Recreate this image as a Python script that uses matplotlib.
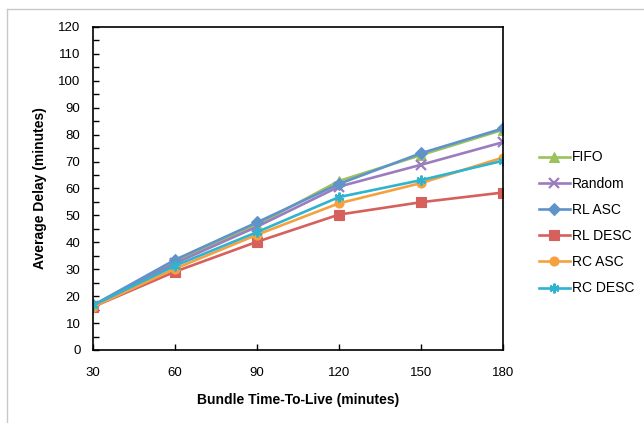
import matplotlib
matplotlib.use('Agg')
import matplotlib.pyplot as plt
from matplotlib.lines import Line2D
from matplotlib.ticker import MultipleLocator

plt.rcParams['font.family'] = ['Liberation Sans', 'DejaVu Sans']

TTL = [30, 60, 90, 120, 150, 180]

FIFO    = [16.5, 33.0, 46.5, 62.8, 72.4, 81.8]
RANDOM  = [16.5, 32.2, 45.8, 60.7, 68.8, 77.2]
RL_ASC  = [16.6, 33.5, 47.4, 61.7, 73.1, 82.3]
RL_DESC = [16.0, 29.1, 40.2, 50.3, 54.9, 58.5]
RC_ASC  = [16.0, 30.2, 42.8, 54.5, 62.0, 71.5]
RC_DESC = [16.6, 31.3, 43.8, 56.8, 63.1, 70.3]

series = [
    ('FIFO',    FIFO,    '#9bc25c', '^'),
    ('Random',  RANDOM,  '#9b7cbf', 'x'),
    ('RL ASC',  RL_ASC,  '#5f93c9', 'D'),
    ('RL DESC', RL_DESC, '#d6605c', 's'),
    ('RC ASC',  RC_ASC,  '#f5a13f', 'o'),
    ('RC DESC', RC_DESC, '#2fb3cf', (6, 2, 0)),
]

fig = plt.figure(figsize=(6.44, 4.23), dpi=100)
ax = fig.add_axes([0.1444, 0.1726, 0.6366, 0.7636])

for name, vals, col, mk in series:
    ms = 6.5 if mk in ('^', 's', 'o') else 7
    if mk == 'D':
        ms = 6
    ax.plot(TTL, vals, color=col, marker=mk, markersize=ms, linewidth=1.9,
            markeredgewidth=1.6 if mk in ('x', (6, 2, 0)) else 0.8,
            markeredgecolor=col, label=name)

ax.set_xlim(30, 180)
ax.set_ylim(0, 120)
ax.set_xticks(TTL)
ax.yaxis.set_major_locator(MultipleLocator(10))
ax.yaxis.set_minor_locator(MultipleLocator(5))
ax.tick_params(axis='both', which='both', direction='in', length=4, width=1,
               labelsize=9.5, colors='black')
ax.tick_params(axis='x', pad=12)
ax.tick_params(axis='y', pad=9)
for s in ax.spines.values():
    s.set_linewidth(1.2)

ax.set_xlabel('Bundle Time-To-Live (minutes)', fontsize=10, fontweight='bold',
              labelpad=10)
ax.set_ylabel('Average Delay (minutes)', fontsize=10, fontweight='bold',
              labelpad=8)

ax.legend(loc='center left', bbox_to_anchor=(0.828, 0.473),
          bbox_transform=fig.transFigure, frameon=False, fontsize=10,
          handlelength=2.25, handletextpad=0.15, labelspacing=0.88,
          borderaxespad=0)

# light gray outer frame (top and left edges visible)
fig.add_artist(Line2D([7 / 644, 1.0], [1 - 9 / 423, 1 - 9 / 423],
                      color='#c8c8c8', linewidth=1))
fig.add_artist(Line2D([7 / 644, 7 / 644], [0.0, 1 - 9 / 423],
                      color='#c8c8c8', linewidth=1))

fig.savefig('out.png', dpi=100)
